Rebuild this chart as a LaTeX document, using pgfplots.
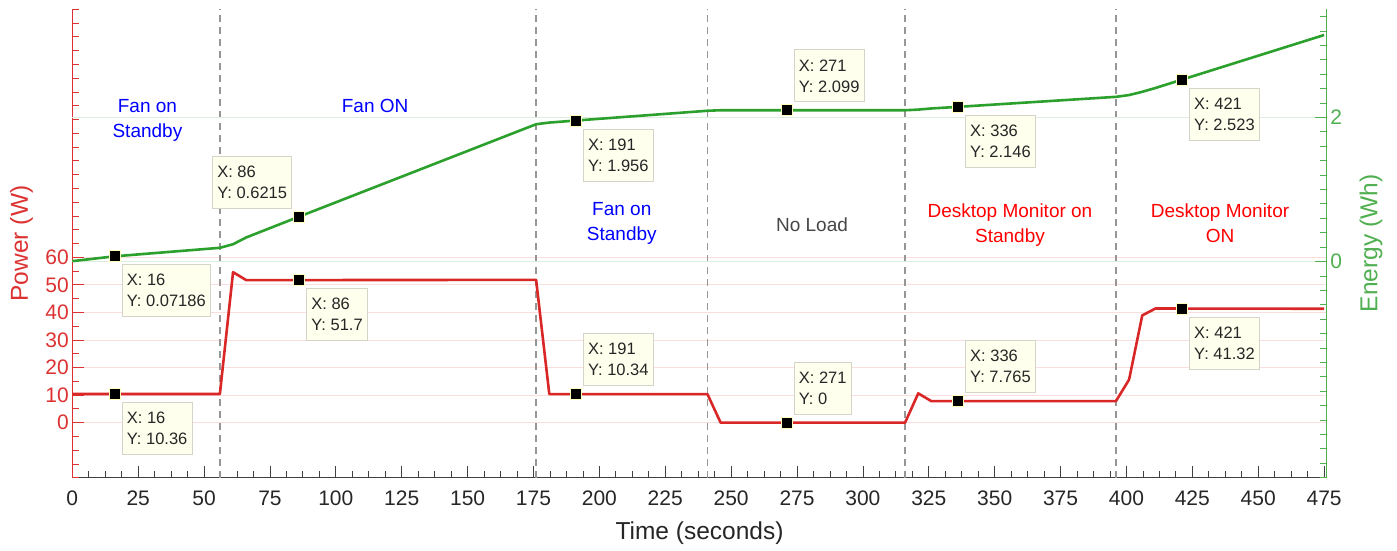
\documentclass[border=0pt]{standalone}
\usepackage{fontspec}
\setmainfont{Liberation Sans}
\usepackage{pgfplots}
\usepackage{pgfplotstable}
\pgfplotsset{compat=1.18}
\definecolor{pred}{RGB}{217,38,38}
\definecolor{axred}{RGB}{220,50,50}
\definecolor{pgreen}{RGB}{44,160,44}
\definecolor{axgreen}{RGB}{80,175,80}
\definecolor{axgray}{RGB}{64,64,64}
\definecolor{txtgray}{RGB}{38,38,38}
\definecolor{gridred}{RGB}{250,222,222}
\definecolor{gridgreen}{RGB}{222,238,222}
\definecolor{tipfill}{RGB}{255,255,238}
\definecolor{tipedge}{RGB}{212,212,200}
\definecolor{markedge}{RGB}{255,255,190}
\definecolor{dashgray}{RGB}{150,150,150}
\definecolor{noload}{RGB}{70,70,70}

\pgfplotstableread{
t P
0 10.36
56 10.36
61 54.6
66 51.7
176 51.8
181 10.34
241 10.34
246 0
316 0
321 10.6
326 7.765
396 7.765
401 15.6
406 38.9
411 41.4
475 41.32
}\powertable

\pgfplotstableread{
t E
0 0.005
16 0.07186
56 0.19
61 0.24
66 0.334
86 0.6215
176 1.905
181 1.928
191 1.956
241 2.092
246 2.099
316 2.099
321 2.108
326 2.124
336 2.146
396 2.285
401 2.31
406 2.355
411 2.408
421 2.523
475 3.143
}\energytable

\tikzset{
  tip/.style={draw=tipedge, fill=tipfill, line width=0.8pt, align=left,
    font=\fontsize{16.5}{21}\selectfont, text=txtgray,
    inner xsep=4.5pt, inner ysep=0pt, minimum height=52pt},
  br/.style={tip, anchor=north west, xshift=7.5pt, yshift=-8pt},
  ar/.style={tip, anchor=south west, xshift=7.5pt, yshift=8pt},
  al/.style={tip, anchor=south east, xshift=-7pt, yshift=8pt},
  ann/.style={align=center, font=\fontsize{19}{25}\selectfont},
}

\pgfplotsset{
  common/.style={
    scale only axis, width=1254.4pt, height=468.4pt,
    at={(72.3pt,73.3pt)}, anchor=south west,
    xmin=0, xmax=476, clip=false,
    axis line style={-},
    tick align=inside,
    major tick length=12pt, minor tick length=6.5pt,
    /pgf/number format/assume math mode=true,
    ticklabel style={font=\fontsize{21}{25}\selectfont},
    label style={font=\fontsize{24.5}{29}\selectfont},
  },
  tipmarks/.style={only marks, mark=square*, mark size=5.5pt,
    mark options={fill=black, draw=markedge, line width=0.8pt}},
}

\begin{document}
\begin{tikzpicture}
\useasboundingbox (0,0) rectangle (1397pt,551pt);
% time axis
\begin{axis}[common,
  ymin=0, ymax=1,
  axis x line*=bottom, axis y line=none,
  x axis line style={draw=axgray, line width=1pt},
  xtick={0,25,...,475}, minor x tick num=3,
  tick style={draw=axgray, line width=0.8pt},
  xticklabel style={text=txtgray, yshift=-10pt},
  xlabel={Time (seconds)},
  xlabel style={at={(axis description cs:0.5,-0.133)}, anchor=base, text=txtgray},
]
\end{axis}

% power axis
\begin{axis}[common,
  ymin=-20, ymax=150,
  axis x line=none, axis y line*=left,
  y axis line style={draw=axred, line width=1pt},
  ytick={0,10,...,60}, minor ytick={-20,-15,...,150},
  tick style={draw=axred, line width=0.8pt},
  ymajorgrids, major grid style={draw=gridred, line width=0.8pt},
  yticklabel style={text=axred},
  ylabel={Power (W)},
  ylabel style={at={(axis description cs:-0.0405,0.5)}, anchor=center, text=axred},
]
\addplot[dashgray, line width=1.3pt, dash pattern=on 7pt off 5pt] coordinates {(56,-20) (56,150)};
\addplot[dashgray, line width=1.3pt, dash pattern=on 7pt off 5pt] coordinates {(176,-20) (176,150)};
\addplot[dashgray, line width=1.3pt, dash pattern=on 7pt off 5pt] coordinates {(241,-20) (241,150)};
\addplot[dashgray, line width=1.3pt, dash pattern=on 7pt off 5pt] coordinates {(316,-20) (316,150)};
\addplot[dashgray, line width=1.3pt, dash pattern=on 7pt off 5pt] coordinates {(396,-20) (396,150)};
\addplot[pred, line width=2.6pt, line join=round] table[x=t, y=P] {\powertable};
\addplot[tipmarks] coordinates {(16,10.36) (86,51.7) (191,10.34) (271,0) (336,7.765) (421,41.32)};
\node[br] at (axis cs:16,10.36) {X: 16\\Y: 10.36};
\node[br] at (axis cs:86,51.7) {X: 86\\Y: 51.7};
\node[ar] at (axis cs:191,10.34) {X: 191\\Y: 10.34};
\node[ar] at (axis cs:271,0) {X: 271\\Y: 0};
\node[ar] at (axis cs:336,7.765) {X: 336\\Y: 7.765};
\node[br] at (axis cs:421,41.32) {X: 421\\Y: 41.32};
\node[ann, text=blue, anchor=center] at (axis cs:28.5,109.7) {Fan on\\Standby};
\node[ann, text=blue, anchor=base] at (axis cs:114.9,112.4) {Fan ON};
\node[ann, text=blue, anchor=center] at (axis cs:208.5,72.1) {Fan on\\Standby};
\node[ann, text=noload, anchor=base] at (axis cs:280.7,69.4) {No Load};
\node[ann, text=red, anchor=center] at (axis cs:355.8,71.7) {Desktop Monitor on\\Standby};
\node[ann, text=red, anchor=center] at (axis cs:435.5,72.5) {Desktop Monitor\\ON};
\end{axis}

% energy axis
\begin{axis}[common,
  ymin=-3, ymax=3.5,
  axis x line=none, axis y line*=right,
  y axis line style={draw=axgreen, line width=1pt},
  ytick={0,2}, minor ytick={-3,-2.8,-2.6,-2.4,-2.2,-2,-1.8,-1.6,-1.4,-1.2,-1,-0.8,-0.6,-0.4,-0.2,0,0.2,0.4,0.6,0.8,1,1.2,1.4,1.6,1.8,2,2.2,2.4,2.6,2.8,3,3.2,3.4},
  tick style={draw=axgreen, line width=0.8pt},
  ymajorgrids, major grid style={draw=gridgreen, line width=0.8pt},
  yticklabel style={text=axgreen},
  ylabel={Energy (Wh)},
  ylabel style={at={(axis description cs:1.0353,0.5)}, anchor=center, text=axgreen},
]
\addplot[pgreen, line width=2.6pt, line join=round] table[x=t, y=E] {\energytable};
\addplot[tipmarks] coordinates {(16,0.07186) (86,0.6215) (191,1.956) (271,2.099) (336,2.146) (421,2.523)};
\node[br] at (axis cs:16,0.07186) {X: 16\\Y: 0.07186};
\node[al] at (axis cs:86,0.6215) {X: 86\\Y: 0.6215};
\node[br] at (axis cs:191,1.956) {X: 191\\Y: 1.956};
\node[ar] at (axis cs:271,2.099) {X: 271\\Y: 2.099};
\node[br] at (axis cs:336,2.146) {X: 336\\Y: 2.146};
\node[br] at (axis cs:421,2.523) {X: 421\\Y: 2.523};
\end{axis}
\end{tikzpicture}
\end{document}
